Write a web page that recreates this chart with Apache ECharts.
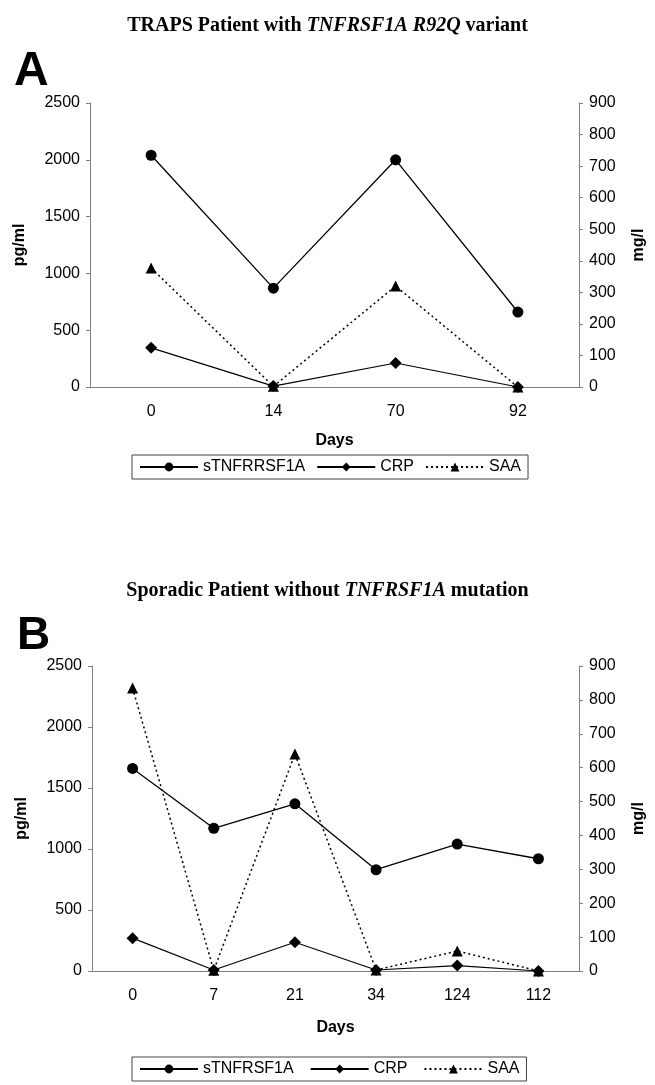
<!DOCTYPE html>
<html>
<head>
<meta charset="utf-8">
<script src="https://cdn.jsdelivr.net/npm/echarts@6/dist/echarts.min.js"></script>
<style>
  html, body { margin: 0; padding: 0; background: #fff; }
  #chart { width: 655px; height: 1085px; }
</style>
</head>
<body>
<div id="chart"></div>
<script>
// panel A: TRAPS patient
var daysA = ['0', '14', '70', '92'];
var stnfA = [2040, 870, 2000, 660];   // pg/ml
var crpA = [124, 3, 76, 0];           // mg/l
var saaA = [377, 2, 320, 0];          // mg/l

// panel B: sporadic patient
var daysB = ['0', '7', '21', '34', '124', '112'];
var stnfB = [1660, 1170, 1370, 830, 1040, 920];
var crpB = [97, 3, 85, 3, 16, 0];
var saaB = [835, 2, 640, 3, 59, 0];

var leftMax = 2500, leftStep = 500;
var rightMax = 900, rightStep = 100;

var AXIS = '#7f7f7f';
var FONT = 'Liberation Sans';

function xAxisFor (idx, days, gap) {
  return {
    type: 'category',
    gridIndex: idx,
    data: days,
    name: 'Days',
    nameLocation: 'middle',
    nameGap: gap,
    nameTextStyle: { fontFamily: FONT, fontWeight: 'bold', fontSize: 16, color: '#000' },
    axisLine: { lineStyle: { color: AXIS } },
    axisTick: { length: 4, lineStyle: { color: AXIS } },
    axisLabel: { margin: 17, fontFamily: FONT, fontSize: 16, color: '#000' },
    splitLine: { show: false }
  };
}

function yAxisFor (idx, side, max, step, name, gap) {
  return {
    type: 'value',
    gridIndex: idx,
    position: side,
    min: 0,
    max: max,
    interval: step,
    name: name,
    nameLocation: 'middle',
    nameRotate: 90,
    nameGap: gap,
    nameTextStyle: { fontFamily: FONT, fontWeight: 'bold', fontSize: 16, color: '#000' },
    axisLine: { show: true, lineStyle: { color: AXIS } },
    axisTick: { show: true, length: 4, lineStyle: { color: AXIS } },
    axisLabel: {
      margin: 10, fontFamily: FONT, fontSize: 16, color: '#000',
      formatter: function (v) { return String(v); }
    },
    splitLine: { show: false }
  };
}

function seriesFor (idx, stnfName, stnf, crp, saa) {
  return [
    {
      name: stnfName, type: 'line', xAxisIndex: idx, yAxisIndex: idx * 2,
      data: stnf, symbol: 'circle', symbolSize: 11,
      lineStyle: { color: '#000', width: 1.3 }, itemStyle: { color: '#000' }
    },
    {
      name: 'CRP', type: 'line', xAxisIndex: idx, yAxisIndex: idx * 2 + 1,
      data: crp, symbol: 'diamond', symbolSize: 12,
      lineStyle: { color: '#000', width: 1.2 }, itemStyle: { color: '#000' }
    },
    {
      name: 'SAA', type: 'line', xAxisIndex: idx, yAxisIndex: idx * 2 + 1,
      data: saa, symbol: 'triangle', symbolSize: 11,
      lineStyle: { color: '#000', width: 1.5, type: [2, 3] }, itemStyle: { color: '#000' }
    }
  ];
}

function legendFor (top, names, gap) {
  return {
    top: top,
    left: 132,
    data: names,
    orient: 'horizontal',
    borderColor: '#444',
    borderWidth: 1,
    borderRadius: 0,
    padding: [4, 7],
    itemGap: gap,
    itemWidth: 58,
    itemHeight: 11,
    textStyle: { fontFamily: FONT, fontSize: 16, color: '#000' }
  };
}

var titleRich = {
  b: { fontFamily: 'Liberation Serif', fontWeight: 'bold', fontSize: 20, color: '#000' },
  i: { fontFamily: 'Liberation Serif', fontWeight: 'bold', fontStyle: 'italic', fontSize: 20, color: '#000' }
};

var myChart = echarts.init(document.getElementById('chart'));
var option = {
  backgroundColor: '#fff',
  animation: false,
  title: [
    {
      text: '{b|TRAPS Patient with }{i|TNFRSF1A R92Q}{b| variant}',
      left: 'center', top: 11, textStyle: { rich: titleRich }
    },
    {
      text: '{b|Sporadic Patient without }{i|TNFRSF1A}{b| mutation}',
      left: 'center', top: 576, textStyle: { rich: titleRich }
    },
    { text: 'A', left: 9, top: 43, textStyle: { fontFamily: FONT, fontWeight: 'bold', fontSize: 48, color: '#000' } },
    { text: 'B', left: 12, top: 608, textStyle: { fontFamily: FONT, fontWeight: 'bold', fontSize: 46, color: '#000' } }
  ],
  grid: [
    { left: 90, right: 76, top: 103, height: 284 },
    { left: 92, right: 66, top: 666, height: 305 }
  ],
  xAxis: [xAxisFor(0, daysA, 46), xAxisFor(1, daysB, 49)],
  yAxis: [
    yAxisFor(0, 'left', leftMax, leftStep, 'pg/ml', 62),
    yAxisFor(0, 'right', rightMax, rightStep, 'mg/l', 52),
    yAxisFor(1, 'left', leftMax, leftStep, 'pg/ml', 62),
    yAxisFor(1, 'right', rightMax, rightStep, 'mg/l', 52)
  ],
  legend: [
    legendFor(455, ['sTNFRRSF1A', 'CRP', 'SAA'], 11),
    legendFor(1057, ['sTNFRSF1A', 'CRP', 'SAA'], 16)
  ],
  series: seriesFor(0, 'sTNFRRSF1A', stnfA, crpA, saaA)
    .concat(seriesFor(1, 'sTNFRSF1A', stnfB, crpB, saaB))
};
myChart.setOption(option);
window.addEventListener('resize', function () {
  myChart.resize();
});
</script>
</body>
</html>
